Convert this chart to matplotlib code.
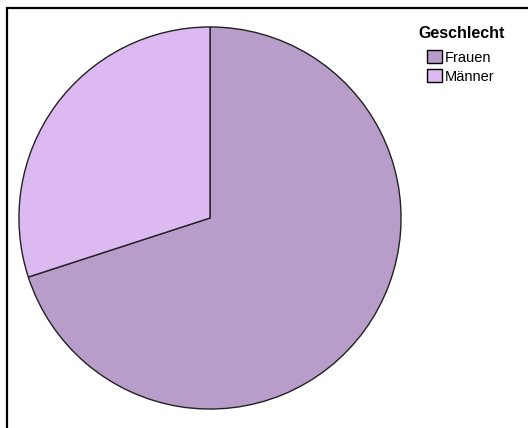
import matplotlib.pyplot as plt
from matplotlib.patches import Rectangle

plt.rcParams["font.family"] = ["Liberation Sans", "DejaVu Sans"]

categories = ["Frauen", "Männer"]
shares = [70, 30]
colors = ["#b89cca", "#ddb9f2"]
legend_title = "Geschlecht"

W, H = 528, 428
fig = plt.figure(figsize=(W / 100, H / 100), dpi=100)

# outer frame, cut off at right and bottom like the original
fig.patches.append(Rectangle((7 / W, -0.1), 1.2, (H - 8) / H + 0.1,
                             transform=fig.transFigure, fill=False,
                             edgecolor="black", linewidth=1.6))

cx, cy, r = 210, 218, 192
ax = fig.add_axes([(cx - r) / W, (H - cy - r) / H, 2 * r / W, 2 * r / H])
wedges, _ = ax.pie(shares, colors=colors, startangle=90, counterclock=False,
                   wedgeprops=dict(edgecolor="#222222", linewidth=1.0))
ax.set_xlim(-1.005, 1.005)
ax.set_ylim(-1.005, 1.005)
ax.set_aspect("equal")
ax.axis("off")

fig.text(418 / W, 1 - 33 / H, legend_title, fontsize=11.5, fontweight="bold",
         ha="left", va="center")
leg = fig.legend(wedges, categories, loc="upper left",
                 bbox_to_anchor=(417 / W, 1 - 40 / H), frameon=False,
                 fontsize=10.5, handlelength=1.02, handleheight=1.02,
                 handletextpad=0.15, labelspacing=0.3, borderpad=0.2)
for h in leg.legend_handles:
    h.set_edgecolor("black")
    h.set_linewidth(1.0)

fig.savefig("out.png", dpi=100)
